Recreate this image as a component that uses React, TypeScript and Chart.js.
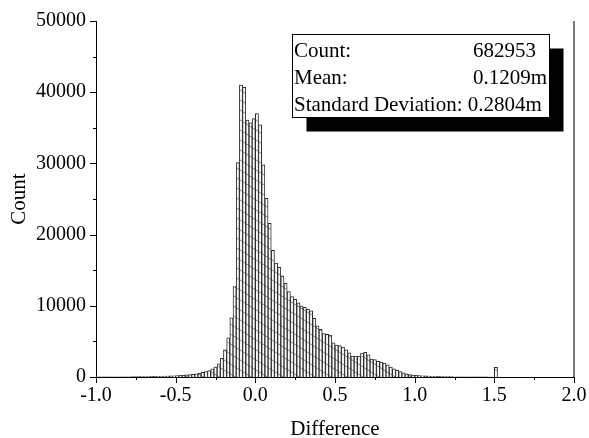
import React, { useEffect, useRef } from "react";
import { Chart, registerables } from "chart.js";

Chart.register(...registerables);

// Histogram bins: start at -1.0, width 0.02 (150 bins up to 2.0)
const BIN_START = -1.0;
const BIN_WIDTH = 0.02;

const counts: number[] = [
  // -1.00 .. -0.82
  20, 20, 25, 25, 30, 30, 30, 35, 35, 40,
  // -0.80 .. -0.62
  40, 45, 50, 55, 60, 65, 70, 80, 90, 100,
  // -0.60 .. -0.42
  110, 120, 140, 160, 180, 200, 230, 260, 300, 340,
  // -0.40 .. -0.22
  390, 450, 530, 640, 760, 900, 1150, 1400, 1850, 2650,
  // -0.20 .. -0.02
  3800, 5500, 8300, 12700, 30100, 41000, 40700, 36100, 35700, 36300,
  // 0.00 .. 0.18
  37000, 35400, 29800, 25100, 21600, 17800, 16000, 15400, 14200, 13150,
  // 0.20 .. 0.38
  12000, 11300, 10900, 10400, 10000, 9800, 9500, 9300, 8240, 7200,
  // 0.40 .. 0.58
  6700, 6100, 6000, 5900, 4800, 4500, 4400, 4200, 3800, 3400,
  // 0.60 .. 0.78
  2950, 2950, 2950, 3350, 3450, 3100, 2500, 2450, 2200, 2100,
  // 0.80 .. 0.98
  1950, 1700, 1400, 1150, 950, 750, 600, 450, 330, 280,
  // 1.00 .. 1.18
  230, 200, 170, 150, 130, 110, 90, 80, 70, 60,
  // 1.20 .. 1.38
  50, 45, 40, 35, 30, 25, 20, 20, 15, 15,
  // 1.40 .. 1.58
  10, 10, 10, 5, 5, 1350, 0, 0, 0, 0,
  // 1.60 .. 1.78
  0, 0, 0, 0, 0, 0, 0, 0, 0, 0,
  // 1.80 .. 1.98
  0, 0, 0, 0, 0, 0, 0, 0, 0, 0,
];

const X_MIN = -1.0;
const X_MAX = 2.0;
const X_MAJOR = 0.5;
const X_MINOR = 0.25;
const Y_MIN = 0;
const Y_MAX = 50000;
const Y_MAJOR = 10000;
const Y_MINOR = 5000;

const X_TITLE = "Difference";
const Y_TITLE = "Count";

const statLines = ["Count:", "Mean:", "Standard Deviation: 0.2804m"];
const statValues = ["682953", "0.1209m", ""];

const SERIF = "'Liberation Serif', 'Times New Roman', serif";

function makeHatch(): CanvasPattern | string {
  const c = document.createElement("canvas");
  const w = 16;
  const h = 10;
  c.width = w;
  c.height = h;
  const g = c.getContext("2d");
  if (!g) return "#fff";
  g.fillStyle = "#ffffff";
  g.fillRect(0, 0, w, h);
  g.strokeStyle = "#8c8c8c";
  g.lineWidth = 1;
  g.beginPath();
  const offs = [
    [0, 0],
    [w, 0],
    [-w, 0],
    [0, h],
    [0, -h],
  ];
  for (const [ox, oy] of offs) {
    g.moveTo(ox - w, oy - h);
    g.lineTo(ox + 2 * w, oy + 2 * h);
  }
  g.stroke();
  const p = g.createPattern(c, "repeat");
  return p || "#fff";
}

const decorPlugin = {
  id: "decor",
  afterDraw(chart: any) {
    const ctx = chart.ctx as CanvasRenderingContext2D;
    const xs = chart.scales.x;
    const ys = chart.scales.y;
    const area = chart.chartArea;
    ctx.save();
    // right frame line
    ctx.strokeStyle = "#777";
    ctx.lineWidth = 2;
    ctx.beginPath();
    ctx.moveTo(area.right, area.top);
    ctx.lineTo(area.right, area.bottom);
    ctx.stroke();

    // tick marks
    ctx.strokeStyle = "#000";
    ctx.lineWidth = 1;
    ctx.beginPath();
    const nx = Math.round((X_MAX - X_MIN) / X_MINOR);
    for (let i = 0; i <= nx; i++) {
      const v = X_MIN + i * X_MINOR;
      const px = Math.round(xs.getPixelForValue(v)) + 0.5;
      const major = Math.abs(v / X_MAJOR - Math.round(v / X_MAJOR)) < 1e-6;
      const len = major ? 6 : 3;
      ctx.moveTo(px, area.bottom);
      ctx.lineTo(px, area.bottom + len);
    }
    const ny = Math.round((Y_MAX - Y_MIN) / Y_MINOR);
    for (let i = 0; i <= ny; i++) {
      const v = Y_MIN + i * Y_MINOR;
      const py = Math.round(ys.getPixelForValue(v)) + 0.5;
      const major = v % Y_MAJOR === 0;
      const len = major ? 6 : 3;
      ctx.moveTo(area.left, py);
      ctx.lineTo(area.left - len, py);
    }
    ctx.stroke();

    // stats box with shadow
    const bx = 292.5;
    const by = 34.5;
    const bw = 257;
    const bh = 83;
    const sh = 14;
    ctx.fillStyle = "#000";
    ctx.fillRect(bx + sh, by + sh, bw, bh);
    ctx.fillStyle = "#fff";
    ctx.fillRect(bx, by, bw, bh);
    ctx.strokeStyle = "#000";
    ctx.lineWidth = 1;
    ctx.strokeRect(bx, by, bw, bh);

    ctx.fillStyle = "#000";
    ctx.font = `21px ${SERIF}`;
    ctx.textBaseline = "alphabetic";
    ctx.textAlign = "left";
    const baselines = [57, 84, 110.5];
    for (let i = 0; i < statLines.length; i++) {
      ctx.fillText(statLines[i], 294, baselines[i]);
      if (statValues[i]) ctx.fillText(statValues[i], 473, baselines[i]);
    }
    ctx.restore();
  },
};

export default function App() {
  const ref = useRef<HTMLCanvasElement | null>(null);

  useEffect(() => {
    const canvas = ref.current;
    if (!canvas) return;
    const hatch = makeHatch();
    const data = counts.map((c, i) => ({
      x: BIN_START + BIN_WIDTH * (i + 0.5),
      y: c,
    }));
    const chart = new Chart(canvas, {
      type: "bar",
      data: {
        datasets: [
          {
            data: data as any,
            backgroundColor: hatch as any,
            borderColor: "#2a2a2a",
            borderWidth: 1,
            barPercentage: 1,
            categoryPercentage: 1,
          },
        ],
      },
      options: {
        responsive: false,
        animation: false,
        events: [],
        layout: { padding: { top: 21, right: 15, left: 0, bottom: 0 } },
        plugins: {
          legend: { display: false },
          tooltip: { enabled: false },
        },
        scales: {
          x: {
            type: "linear",
            min: X_MIN,
            max: X_MAX,
            offset: false,
            grid: { display: false, drawTicks: false },
            border: { display: true, color: "#000", width: 1 },
            ticks: {
              stepSize: X_MAJOR,
              padding: 7,
              color: "#000",
              font: { family: SERIF, size: 20 },
              maxRotation: 0,
              autoSkip: false,
              callback: (v: any) => Number(v).toFixed(1),
            },
            title: {
              display: true,
              text: X_TITLE,
              color: "#000",
              font: { family: SERIF, size: 21, lineHeight: 1 },
              padding: { top: 0, bottom: -2 },
            },
            afterFit: (scale: any) => {
              scale.height = 61;
              scale.paddingLeft = 0;
              scale.paddingRight = 0;
            },
          },
          y: {
            type: "linear",
            min: Y_MIN,
            max: Y_MAX,
            grid: { display: false, drawTicks: false },
            border: { display: true, color: "#000", width: 1 },
            ticks: {
              stepSize: Y_MAJOR,
              padding: 10,
              color: "#000",
              font: { family: SERIF, size: 20 },
              callback: (v: any) => String(v),
            },
            title: {
              display: true,
              text: Y_TITLE,
              color: "#000",
              font: { family: SERIF, size: 21, lineHeight: 1 },
              padding: { top: 9, bottom: 0 },
            },
            afterFit: (scale: any) => {
              scale.width = 96;
              scale.paddingTop = 0;
              scale.paddingBottom = 0;
            },
          },
        },
      },
      plugins: [decorPlugin],
    });
    return () => chart.destroy();
  }, []);

  return (
    <canvas
      ref={ref}
      width={589}
      height={438}
      style={{ position: "fixed", left: 0, top: 0, width: 589, height: 438, background: "#fff" }}
    />
  );
}
